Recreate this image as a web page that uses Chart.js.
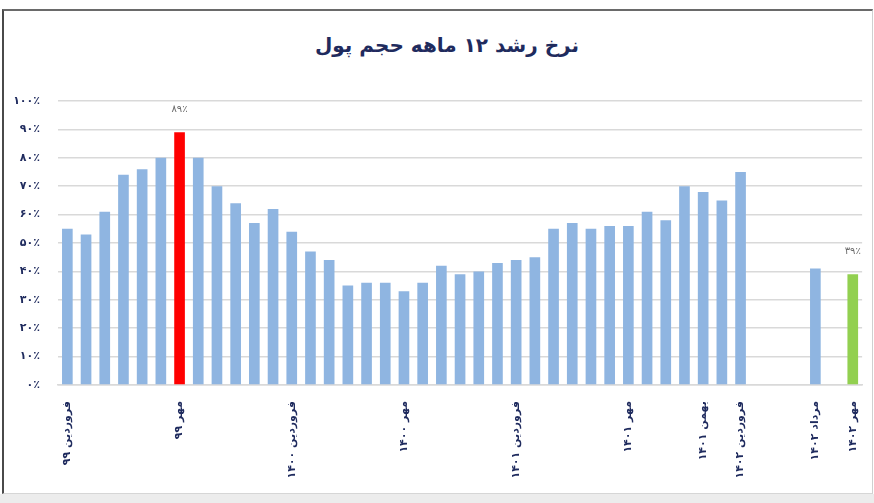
<!DOCTYPE html>
<html>
<head>
<meta charset="utf-8">
<script src="https://cdn.jsdelivr.net/npm/chart.js@4/dist/chart.umd.min.js"></script>
<style>
  html, body { margin: 0; padding: 0; background: #fff; }
  body { width: 874px; height: 503px; position: relative; overflow: hidden; }
  .frame { position: absolute; left: 2px; top: 9px; width: 868px; height: 482px;
    border-top: 2px solid #6a6a6a; border-left: 2px solid #4a4a4a;
    border-right: 1px solid #d0d0d0; border-bottom: 1px solid #d6d6d6; }
  .band { position: absolute; left: 0; top: 494px; width: 874px; height: 9px; background: #ececec; }
  .title { position: absolute; left: 247px; width: 400px; top: 31px; text-align: center;
    font: bold 20px "DejaVu Sans"; color: #1f2b5e; direction: rtl; line-height: 28px; }
  #myChart { position: absolute; left: 0; top: 0; }
</style>
</head>
<body>
<div class="frame"></div>
<div class="band"></div>
<div class="title">نرخ رشد ۱۲ ماهه حجم پول</div>
<canvas id="myChart" width="874" height="503"></canvas>
<script>
// ماه‌ها (فقط برچسب‌های نمایش داده شده)
const categories = [
  'فروردین ۹۹', '', '', '', '', '', 'مهر ۹۹', '', '', '', '', '',
  'فروردین ۱۴۰۰', '', '', '', '', '', 'مهر ۱۴۰۰', '', '', '', '', '',
  'فروردین ۱۴۰۱', '', '', '', '', '', 'مهر ۱۴۰۱', '', '', '', 'بهمن ۱۴۰۱', '',
  'فروردین ۱۴۰۲', '', '', '', 'مرداد ۱۴۰۲', '', 'مهر ۱۴۰۲'
];
const growth = [
  55, 53, 61, 74, 76, 80, 89, 80, 70, 64, 57, 62,
  54, 47, 44, 35, 36, 36, 33, 36, 42, 39, 40, 43,
  44, 45, 55, 57, 55, 56, 56, 61, 58, 70, 68, 65,
  75, null, null, null, 41, null, 39
];
const yTicks = [0, 10, 20, 30, 40, 50, 60, 70, 80, 90, 100];

const faDigits = '۰۱۲۳۴۵۶۷۸۹';
function toFa(n) {
  return String(n).replace(/[0-9]/g, d => faDigits[d]);
}

const peakIdx = growth.indexOf(Math.max(...growth.filter(v => v !== null)));
const lastIdx = growth.length - 1;
const navy = '#1f2b5e';

// برچسب مقدار روی میله قرمز و سبز
const valueLabels = {
  id: 'valueLabels',
  afterDatasetsDraw(chart) {
    const ctx = chart.ctx;
    const meta = chart.getDatasetMeta(0);
    ctx.save();
    ctx.font = '10px "DejaVu Sans"';
    ctx.fillStyle = '#6b6b6b';
    ctx.textAlign = 'center';
    ctx.textBaseline = 'middle';
    [peakIdx, lastIdx].forEach(i => {
      const bar = meta.data[i];
      ctx.fillText(toFa(growth[i]) + '٪', bar.x, bar.y - 23);
    });
    ctx.restore();
  }
};

new Chart(document.getElementById('myChart').getContext('2d'), {
  type: 'bar',
  data: {
    labels: categories,
    datasets: [{
      data: growth,
      backgroundColor: c => c.dataIndex === lastIdx ? '#92d050'
        : (c.dataIndex === peakIdx ? '#ff0000' : '#8fb5e1'),
      categoryPercentage: 1,
      barPercentage: 0.57
    }]
  },
  options: {
    responsive: false,
    animation: false,
    layout: { padding: { left: 0, right: 3, top: 101, bottom: 0 } },
    plugins: {
      legend: { display: false },
      tooltip: { enabled: false },
      title: { display: false }
    },
    scales: {
      x: {
        grid: { display: false },
        border: { color: '#d9d9d9', width: 1.5 },
        afterFit: s => { s.height = 118; },
        ticks: {
          autoSkip: false,
          minRotation: 90,
          maxRotation: 90,
          padding: 8,
          color: navy,
          font: { family: 'DejaVu Sans', size: 11, weight: 'bold' }
        }
      },
      y: {
        min: 0,
        max: 100,
        afterFit: s => { s.width = 58; },
        afterBuildTicks: s => { s.ticks = yTicks.map(v => ({ value: v })); },
        grid: { color: '#d9d9d9', lineWidth: 1.5, drawTicks: false },
        border: { display: false },
        ticks: {
          padding: 18,
          color: navy,
          font: { family: 'DejaVu Sans', size: 11, weight: 'bold' },
          callback: v => toFa(v) + '٪'
        }
      }
    }
  },
  plugins: [valueLabels]
});
</script>
</body>
</html>
